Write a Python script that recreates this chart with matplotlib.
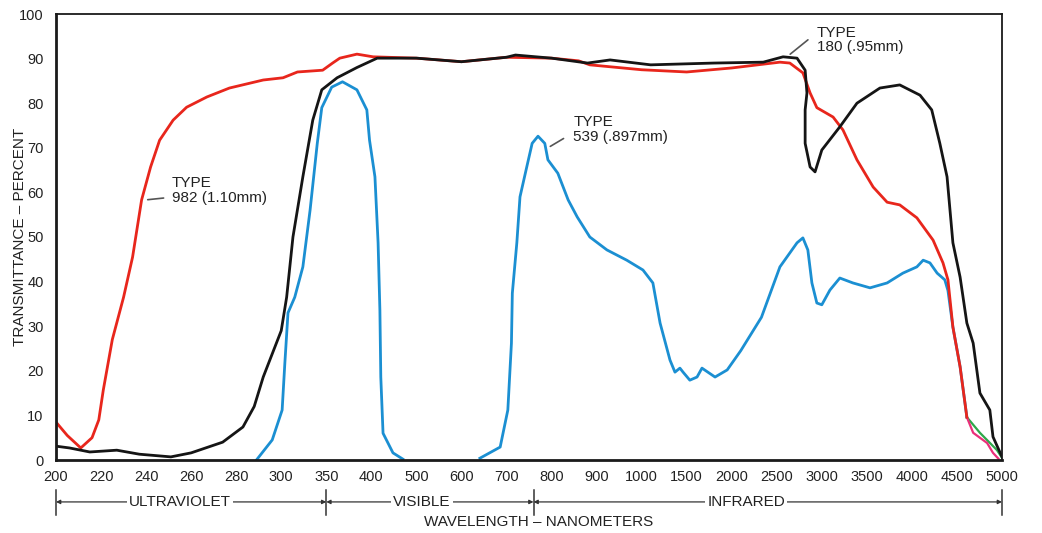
import numpy as np
import matplotlib
matplotlib.use("Agg")
import matplotlib.pyplot as plt
import matplotlib.transforms as mtransforms

plt.rcParams['font.family'] = ['Liberation Sans Narrow', 'Liberation Sans', 'DejaVu Sans']

# x axis is drawn with equally spaced, non-linear ticks
tick_wl = [200, 220, 240, 260, 280, 300, 350, 400, 500, 600, 700, 800, 900,
           1000, 1500, 2000, 2500, 3000, 3500, 4000, 4500, 5000]
tick_idx = np.arange(len(tick_wl))

# Type 982 (1.10mm) - red
t982_wl = [200, 205, 211, 216, 219, 221, 225, 230, 234, 238, 242, 246, 252, 258, 267,
           277, 292, 302, 318, 346, 357, 365, 384, 404, 500, 600, 700, 800, 860, 885,
           1000, 1500, 2000, 2535, 2645, 2790, 2870, 2945, 3125, 3235, 3390, 3570,
           3725, 3865, 4055, 4235, 4345, 4400, 4455, 4535, 4610]
t982_val = [8.5, 5.5, 2.7, 5.0, 9.0, 15.7, 27, 36.5, 45.5, 58.3, 65.7, 71.7, 76.2, 79.1, 81.4,
            83.4, 85.2, 85.7, 87.0, 87.4, 89.0, 90.1, 91.0, 90.4, 90.1, 89.3, 90.3, 90.1, 89.5, 88.6,
            87.5, 87.0, 87.9, 89.2, 89.0, 86.8, 82.3, 79.0, 76.9, 74.0, 67.3, 61.2,
            57.8, 57.2, 54.3, 49.3, 44.2, 40.4, 29.8, 20.9, 9.6]
# tail of the red curve (pink)
t982_tail_wl = [4610, 4680, 4835, 4900, 4960]
t982_tail_val = [9.6, 6.1, 3.8, 1.6, 0.3]

# Type 180 (.95mm) - black
t180_wl = [200, 206, 215, 227, 237, 251, 260, 274, 283, 288, 292, 300, 306, 313, 324,
           335, 345, 362, 384, 413, 500, 600, 700, 720, 800, 880, 930, 1100, 1800,
           2350, 2570, 2725, 2815, 2835, 2815, 2815, 2870, 2925, 3000, 3200, 3390,
           3645, 3865, 4090, 4220, 4310, 4390, 4455, 4535, 4610, 4680, 4755, 4865,
           4900, 5000]
t180_val = [3.1, 2.7, 1.8, 2.2, 1.3, 0.7, 1.6, 4.0, 7.4, 12.0, 18.6, 29.0, 36.5, 50.0, 63.5,
            76.2, 83.0, 85.7, 88.0, 90.1, 90.1, 89.3, 90.3, 90.8, 90.1, 89.0, 89.7, 88.6, 89.0,
            89.2, 90.4, 90.1, 87.4, 82.3, 78.5, 71.0, 65.7, 64.6, 69.5, 74.7, 80.0,
            83.4, 84.1, 81.8, 78.5, 71.0, 63.5, 48.7, 41.0, 30.7, 26.2, 15.0, 11.2,
            5.2, 0.7]

# Type 539 (.897mm) - blue, ultraviolet/visible band
t539a_wl = [289, 296, 301, 304, 307.5, 315, 324, 332, 340, 345, 356, 368, 384, 395,
            398, 408, 415, 419, 421, 426, 448, 470]
t539a_val = [0.0, 4.5, 11.2, 21.7, 33.0, 36.5, 43.3, 56.0, 71.0, 79.0, 83.6, 84.8, 83.0, 78.5,
             71.7, 63.5, 48.7, 33.6, 18.6, 6.0, 1.6, 0.2]
# Type 539 - blue, visible/infrared band
t539b_wl = [641, 686, 703, 711, 713, 723, 730, 745, 757, 770, 785, 792, 814, 837, 857,
            885, 923, 967, 1015, 1125, 1205, 1315, 1370, 1425, 1460, 1535, 1615, 1670,
            1735, 1815, 1950, 2100, 2330, 2535, 2725, 2790, 2845, 2890, 2945, 3000,
            3090, 3200, 3345, 3535, 3725, 3900, 4055, 4125, 4200, 4280, 4365, 4400,
            4455, 4535, 4610]
t539b_val = [0.4, 2.9, 11.2, 26.2, 37.4, 48.7, 59.0, 65.7, 71.0, 72.6, 71.0, 67.3, 64.3, 58.3, 54.5,
             50.0, 47.1, 44.8, 42.6, 39.7, 30.7, 22.4, 19.7, 20.6, 19.7, 17.9, 18.6, 20.6,
             19.7, 18.6, 20.2, 24.5, 32.0, 43.3, 48.7, 49.8, 47.1, 39.7, 35.2, 34.8,
             38.1, 40.8, 39.7, 38.6, 39.7, 41.9, 43.3, 44.8, 44.2, 41.9, 40.4, 38.0,
             29.8, 20.9, 9.6]
# tail of the blue curve (green)
t539_tail_wl = [4610, 4755, 4945, 5000]
t539_tail_val = [9.6, 6.1, 2.2, 0.5]

yticks = list(range(0, 101, 10))


def fwd(x):
    return np.interp(x, tick_wl, tick_idx)


def inv(x):
    return np.interp(x, tick_idx, tick_wl)


fig = plt.figure(figsize=(10.42, 5.33), dpi=100)
ax = fig.add_axes([56 / 1042, 1 - 460 / 533, 946 / 1042, 446 / 533])
ax.set_xscale('function', functions=(fwd, inv))
ax.set_xlim(200, 5000)
ax.set_ylim(0, 100)

lw = 2.0
ax.plot(t539a_wl, t539a_val, color='#1b8fd2', lw=lw, solid_joinstyle='round')
ax.plot(t539b_wl, t539b_val, color='#1b8fd2', lw=lw, solid_joinstyle='round')
ax.plot(t539_tail_wl, t539_tail_val, color='#2da84a', lw=1.6)
ax.plot(t982_tail_wl, t982_tail_val, color='#ea2f7a', lw=1.6)
ax.plot(t982_wl, t982_val, color='#e8261c', lw=lw, solid_joinstyle='round')
ax.plot(t180_wl, t180_val, color='#151515', lw=lw, solid_joinstyle='round')

ax.set_xticks(tick_wl)
ax.set_xticklabels([str(t) for t in tick_wl])
ax.xaxis.set_minor_locator(matplotlib.ticker.NullLocator())
ax.set_yticks(yticks)
ax.tick_params(length=0, labelsize=10.5, colors='#222222')
ax.tick_params(axis='x', pad=7)
ax.tick_params(axis='y', pad=9)

for s in ['top', 'right']:
    ax.spines[s].set_linewidth(1.3)
for s in ['left', 'bottom']:
    ax.spines[s].set_linewidth(2.0)
for s in ax.spines.values():
    s.set_color('#1a1a1a')

# curve labels
lead = dict(arrowstyle='-', color='#555555', lw=1.2)
ax.annotate('', xy=(239.5, 58.3), xytext=(249, 58.8), arrowprops=lead)
ax.text(251.5, 57.2, 'TYPE\n982 (1.10mm)', fontsize=11, ha='left', va='bottom',
        linespacing=1.05, color='#222222')
ax.annotate('', xy=(792, 70.0), xytext=(832, 72.4), arrowprops=lead)
ax.text(848, 70.9, 'TYPE\n539 (.897mm)', fontsize=11, ha='left', va='bottom',
        linespacing=1.05, color='#222222')
ax.annotate('', xy=(2625, 90.6), xytext=(2870, 94.6), arrowprops=lead)
ax.text(2945, 91.0, 'TYPE\n180 (.95mm)', fontsize=11, ha='left', va='bottom',
        linespacing=1.05, color='#222222')

# spectral regions under the axis
trans = mtransforms.blended_transform_factory(ax.transData, ax.transAxes)
bounds = [200, 350, 760, 5000]
regions = ['ULTRAVIOLET', 'VISIBLE', 'INFRARED']
region_x = [255, 512, 2160]
ybar = -0.094
for b in bounds:
    ax.plot([b, b], [-0.067, -0.123], transform=trans, color='#333333', lw=1.1,
            clip_on=False)
for i in range(3):
    ax.annotate('', xy=(bounds[i + 1], ybar), xytext=(bounds[i], ybar),
                xycoords=trans, textcoords=trans,
                arrowprops=dict(arrowstyle='<|-|>', color='#333333', lw=0.9,
                                mutation_scale=6, shrinkA=0, shrinkB=0))
    ax.text(region_x[i], ybar, regions[i], transform=trans, fontsize=11,
            ha='center', va='center', color='#222222',
            bbox=dict(facecolor='white', edgecolor='none', pad=1.5))

ax.text(0.51, -0.139, 'WAVELENGTH \u2013 NANOMETERS', transform=ax.transAxes,
        fontsize=11, ha='center', va='center', color='#222222')
fig.text(20 / 1042, 1 - 237 / 533, 'TRANSMITTANCE \u2013 PERCENT', rotation=90,
         fontsize=11, ha='center', va='center', color='#222222')

plt.savefig('out.png', dpi=100)
